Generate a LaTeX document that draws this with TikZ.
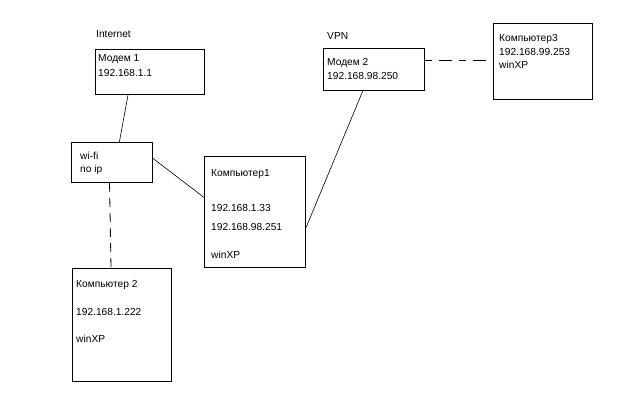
\documentclass[tikz,border=0pt]{standalone}
\usepackage{fontspec}
\setmainfont{Liberation Sans}
\usetikzlibrary{calc}
\begin{document}
\begin{tikzpicture}[x=1pt,y=-1pt,
  box/.style={draw=black,line width=1pt,rectangle,inner sep=0pt,anchor=north west},
  lbl/.style={anchor=base west,inner sep=0pt,font=\fontsize{10.2}{12}\selectfont},
  wire/.style={line width=0.6pt},
  dwire/.style={line width=0.8pt,dash pattern=on 9pt off 6pt},
  hwire/.style={line width=0.8pt,dash pattern=on 7pt off 7pt on 13pt off 7pt}]
\useasboundingbox[fill=white] (0,0) rectangle (640,400);
% boxes
\node[box,minimum width=109pt,minimum height=45pt] (m1) at (95,49) {};
\node[box,minimum width=81pt,minimum height=40pt] (wifi) at (71,142) {};
\node[box,minimum width=101pt,minimum height=111pt] (c1) at (204,156) {};
\node[box,minimum width=99pt,minimum height=113pt] (c2) at (72,268) {};
\node[box,minimum width=101pt,minimum height=42pt] (m2) at (323,48) {};
\node[box,minimum width=99pt,minimum height=76pt] (c3) at (493,23) {};
% labels
\node[lbl] (tInternet) at (96,37) {Internet};
\node[lbl] (tm1a) at (98,61) {Модем 1};
\node[lbl] (tm1b) at (98,76) {192.168.1.1};
\node[lbl] (tw1) at (80,159) {wi-fi};
\node[lbl] (tw2) at (80,172) {no ip};
\node[lbl] (tc1a) at (211,176) {Компьютер1};
\node[lbl] (tc1b) at (211,211) {192.168.1.33};
\node[lbl] (tc1c) at (211,230) {192.168.98.251};
\node[lbl] (tc1d) at (211,258) {winXP};
\node[lbl] (tc2a) at (76,287) {Компьютер 2};
\node[lbl] (tc2b) at (76,315) {192.168.1.222};
\node[lbl] (tc2c) at (76,342) {winXP};
\node[lbl] (tVPN) at (327,39) {VPN};
\node[lbl] (tm2a) at (327,65) {Модем 2};
\node[lbl] (tm2b) at (327,79) {192.168.98.250};
\node[lbl] (tc3a) at (499,41) {Компьютер3};
\node[lbl] (tc3b) at (499,55) {192.168.99.253};
\node[lbl] (tc3c) at (499,68) {winXP};
% connectors
\draw[wire] ($(m1.south west)!0.30!(m1.south east)$) -- ($(wifi.north west)!0.59!(wifi.north east)$);
\draw[wire] ($(wifi.north east)!0.4!(wifi.south east)$) -- ($(c1.north west)!0.37!(c1.south west)$);
\draw[wire] ($(c1.north east)!0.64!(c1.south east)$) -- ($(m2.south west)!0.39!(m2.south east)$);
\draw[dwire] ($(wifi.south west)!0.47!(wifi.south east)$) -- ($(c2.north west)!0.39!(c2.north east)$);
\coordinate (m2p) at ($(m2.north east)!0.29!(m2.south east)$);
\draw[hwire] (m2p) -- (m2p -| c3.west);
\end{tikzpicture}
\end{document}
